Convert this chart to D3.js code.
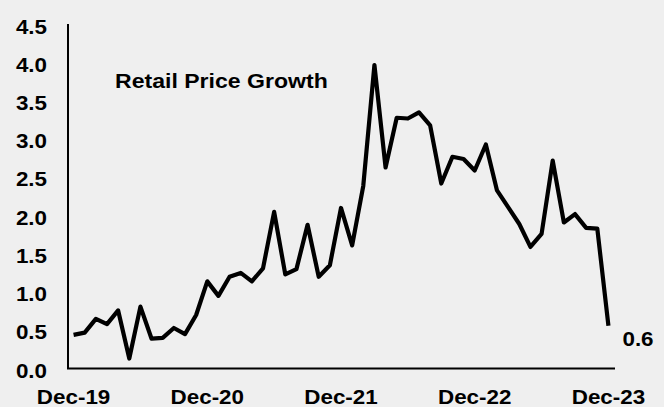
<!DOCTYPE html>
<html>
<head>
<meta charset="utf-8">
<script src="https://cdn.jsdelivr.net/npm/d3@7"></script>
<style>
  html, body { margin: 0; padding: 0; background: #efefef; }
  svg { display: block; }
  text { font-family: "Liberation Sans", Arial, Helvetica, sans-serif; font-weight: bold; fill: #000; }
</style>
</head>
<body>
<svg id="chart" width="664" height="407"></svg>
<script>
// Monthly retail price growth, Dec-19 to Dec-23
const months = [
  "Dec-19","Jan-20","Feb-20","Mar-20","Apr-20","May-20","Jun-20","Jul-20","Aug-20","Sep-20","Oct-20","Nov-20",
  "Dec-20","Jan-21","Feb-21","Mar-21","Apr-21","May-21","Jun-21","Jul-21","Aug-21","Sep-21","Oct-21","Nov-21",
  "Dec-21","Jan-22","Feb-22","Mar-22","Apr-22","May-22","Jun-22","Jul-22","Aug-22","Sep-22","Oct-22","Nov-22",
  "Dec-22","Jan-23","Feb-23","Mar-23","Apr-23","May-23","Jun-23","Jul-23","Aug-23","Sep-23","Oct-23","Nov-23",
  "Dec-23"
];
const growth = [
  0.44, 0.47, 0.65, 0.58, 0.76, 0.13, 0.81, 0.39, 0.40, 0.53, 0.45, 0.70,
  1.14, 0.95, 1.20, 1.25, 1.14, 1.31, 2.05, 1.23, 1.30, 1.88, 1.20, 1.35,
  2.10, 1.61, 2.39, 3.97, 2.63, 3.28, 3.27, 3.35, 3.18, 2.42, 2.77, 2.74,
  2.59, 2.93, 2.33, 2.11, 1.89, 1.59, 1.76, 2.72, 1.91, 2.02, 1.84, 1.83,
  0.56
];
const xTickLabels = ["Dec-19", "Dec-20", "Dec-21", "Dec-22", "Dec-23"];
const yTicks = [0, 0.5, 1.0, 1.5, 2.0, 2.5, 3.0, 3.5, 4.0, 4.5];
const titleText = "Retail Price Growth";

const svg = d3.select("#chart");
const plotLeft = 68, plotRight = 614, plotTop = 24.5, plotBottom = 368.5;
const stretch = 1.12;   // slightly wide lettering
const fontPx = 20;

const x = d3.scaleBand().domain(months).range([plotLeft, plotRight]).padding(0);
const y = d3.scaleLinear().domain([0, 4.5]).range([plotBottom, plotTop]);
const cx = m => x(m) + x.bandwidth() / 2;

// helper: wide text anchored at a point
function label(g, tx, ty, str, anchor, baseline, size) {
  g.append("text")
    .attr("transform", `translate(${tx},${ty}) scale(${stretch},1)`)
    .attr("text-anchor", anchor)
    .attr("dominant-baseline", baseline || "auto")
    .style("font-size", (size || fontPx) + "px")
    .text(str);
}

// y axis: line plus labels, no tick marks
const yAxis = d3.axisLeft(y).tickValues(yTicks).tickSize(0).tickFormat(d3.format(".1f"));
const gy = svg.append("g").attr("transform", `translate(${plotLeft},0)`).call(yAxis);
gy.select(".domain").remove();
gy.selectAll(".tick text").remove();
gy.selectAll(".tick").each(function(d) {
  label(d3.select(this), -21, 1.5, d3.format(".1f")(d), "end", "central");
});
svg.append("line")
  .attr("x1", plotLeft).attr("x2", plotLeft)
  .attr("y1", plotTop - 0.5).attr("y2", plotBottom)
  .attr("stroke", "#000").attr("stroke-width", 2);

// x axis: line plus yearly labels
const xAxis = d3.axisBottom(x).tickValues(xTickLabels).tickSize(0);
const gx = svg.append("g").attr("transform", `translate(0,${plotBottom})`).call(xAxis);
gx.select(".domain").remove();
gx.selectAll(".tick text").remove();
gx.selectAll(".tick").each(function(d) {
  label(d3.select(this), 0, 35, d, "middle");
});
svg.append("line")
  .attr("x1", plotLeft - 1).attr("x2", plotRight + 1)
  .attr("y1", plotBottom).attr("y2", plotBottom)
  .attr("stroke", "#000").attr("stroke-width", 2);

// series line
const line = d3.line().x((d, i) => cx(months[i])).y(d => y(d));
svg.append("path")
  .datum(growth)
  .attr("d", line)
  .attr("fill", "none")
  .attr("stroke", "#000")
  .attr("stroke-width", 4.2)
  .attr("stroke-linejoin", "round");

// last value label
const lastI = growth.length - 1;
label(svg, cx(months[lastI]) + 14, y(growth[lastI]) + 13, growth[lastI].toFixed(1), "start", "central");

// title
label(svg, 115, 88, titleText, "start", "auto", 20.6);
</script>
</body>
</html>
